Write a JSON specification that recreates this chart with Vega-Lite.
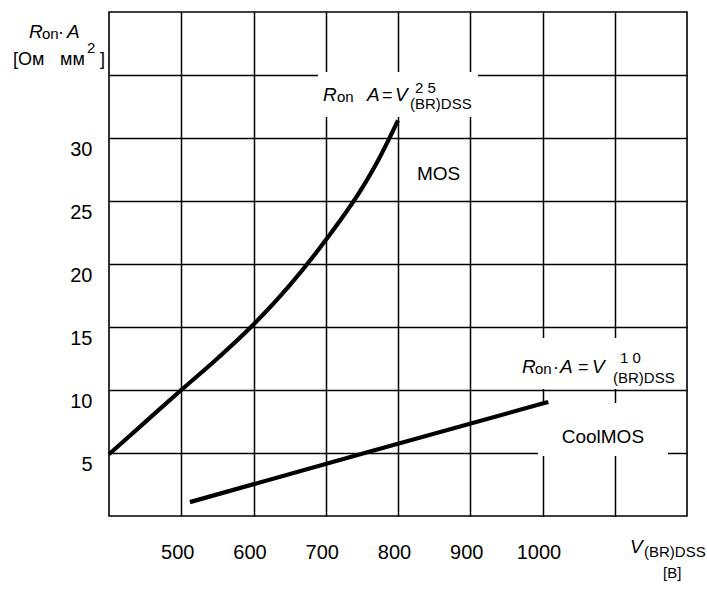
{
  "$schema": "https://vega.github.io/schema/vega-lite/v6.json",
  "width": 578,
  "height": 504,
  "autosize": {"type": "none"},
  "padding": {"left": 109, "top": 12, "right": 20, "bottom": 76},
  "background": "white",
  "config": {
    "view": {"stroke": "black", "strokeWidth": 1.6},
    "font": "Liberation Sans"
  },
  "datasets": {
    "curves": [
      {"series": "MOS", "x": 400, "y": 4.9},
      {"series": "MOS", "x": 450, "y": 7.45},
      {"series": "MOS", "x": 500, "y": 10.0},
      {"series": "MOS", "x": 550, "y": 12.5},
      {"series": "MOS", "x": 600, "y": 15.2},
      {"series": "MOS", "x": 650, "y": 18.3},
      {"series": "MOS", "x": 700, "y": 21.9},
      {"series": "MOS", "x": 750, "y": 26.0},
      {"series": "MOS", "x": 775, "y": 28.5},
      {"series": "MOS", "x": 800, "y": 31.4},
      {"series": "CoolMOS", "x": 512, "y": 1.1},
      {"series": "CoolMOS", "x": 760, "y": 5.1},
      {"series": "CoolMOS", "x": 1008, "y": 9.05}
    ],
    "boxes": [
      {"x": 689.3, "x2": 910.7, "y": 35.24, "y2": 31.67},
      {"x": 993.8, "x2": 1173.7, "y": 8.97, "y2": 4.76},
      {"x": 962, "x2": 1194.5, "y": 14.13, "y2": 10.08}
    ],
    "italic": [
      {"t": "R", "x": 289.3, "y": 37.94},
      {"t": "A", "x": 341.9, "y": 37.94},
      {"t": "R", "x": 696.2, "y": 32.94},
      {"t": "A", "x": 757.1, "y": 32.94},
      {"t": "V", "x": 795.8, "y": 32.94},
      {"t": "R", "x": 971.6, "y": 11.35},
      {"t": "A", "x": 1024.2, "y": 11.35},
      {"t": "V", "x": 1068.5, "y": 11.35},
      {"t": "V", "x": 1121.1, "y": -2.94}
    ],
    "normal": [
      {"t": "·", "x": 329.4, "y": 37.94},
      {"t": "[Ом", "x": 267.1, "y": 35.79},
      {"t": "мм", "x": 332.2, "y": 35.79},
      {"t": "]", "x": 387.5, "y": 35.79},
      {"t": "=", "x": 777.9, "y": 32.94},
      {"t": "·", "x": 1014.5, "y": 11.35},
      {"t": "=", "x": 1049.1, "y": 11.35}
    ],
    "labels": [
      {"t": "MOS", "x": 826.3, "y": 26.67},
      {"t": "CoolMOS", "x": 1026.6, "y": 5.79}
    ],
    "sub": [
      {"t": "on", "x": 307.3, "y": 37.86},
      {"t": "2", "x": 369.6, "y": 36.75},
      {"t": "on", "x": 715.6, "y": 32.86},
      {"t": "2 5", "x": 823.5, "y": 33.57},
      {"t": "(BR)DSS", "x": 816.6, "y": 32.3},
      {"t": "on", "x": 989.6, "y": 11.27},
      {"t": "1 0", "x": 1107.3, "y": 12.14},
      {"t": "(BR)DSS", "x": 1097.6, "y": 10.56},
      {"t": "(BR)DSS", "x": 1140.5, "y": -3.25},
      {"t": "[В]", "x": 1166.8, "y": -4.92}
    ]
  },
  "encoding": {
    "x": {
      "field": "x", "type": "quantitative",
      "scale": {"domain": [400, 1200], "nice": false, "zero": false},
      "axis": {
        "values": [500, 600, 700, 800, 900, 1000, 1100],
        "format": "d",
        "labelExpr": "datum.value == 1100 ? '' : datum.label",
        "grid": true, "gridColor": "black", "gridWidth": 1.5, "gridOpacity": 1,
        "domain": false, "ticks": false, "tickSize": 0,
        "labelFont": "Liberation Sans", "labelFontSize": 20, "labelColor": "black",
        "labelBaseline": "alphabetic", "labelPadding": 42, "labelOffset": -4,
        "labelFlush": false, "labelOverlap": false,
        "title": null
      }
    },
    "y": {
      "field": "y", "type": "quantitative",
      "scale": {"domain": [0, 40], "nice": false, "zero": false},
      "axis": {
        "values": [5, 10, 15, 20, 25, 30, 35],
        "labelExpr": "datum.value == 35 ? '' : datum.label",
        "grid": true, "gridColor": "black", "gridWidth": 1.5, "gridOpacity": 1,
        "domain": false, "ticks": false, "tickSize": 0,
        "labelFont": "Liberation Sans", "labelFontSize": 20, "labelColor": "black",
        "labelBaseline": "middle", "labelPadding": 17, "labelOffset": 11,
        "labelFlush": false, "labelOverlap": false,
        "title": null
      }
    }
  },
  "layer": [
    {
      "data": {"name": "boxes"},
      "mark": {"type": "rect", "fill": "white", "stroke": null},
      "encoding": {"x2": {"field": "x2"}, "y2": {"field": "y2"}}
    },
    {
      "data": {"name": "curves"},
      "mark": {"type": "line", "color": "black", "strokeWidth": 4.2, "interpolate": "monotone", "strokeCap": "butt"},
      "encoding": {"detail": {"field": "series"}}
    },
    {
      "data": {"name": "italic"},
      "mark": {"type": "text", "font": "Liberation Sans", "fontStyle": "italic", "fontSize": 19, "align": "left", "baseline": "alphabetic", "color": "black"},
      "encoding": {"text": {"field": "t"}}
    },
    {
      "data": {"name": "normal"},
      "mark": {"type": "text", "font": "Liberation Sans", "fontSize": 18, "align": "left", "baseline": "alphabetic", "color": "black"},
      "encoding": {"text": {"field": "t"}}
    },
    {
      "data": {"name": "labels"},
      "mark": {"type": "text", "font": "Liberation Sans", "fontSize": 19, "align": "left", "baseline": "alphabetic", "color": "black"},
      "encoding": {"text": {"field": "t"}}
    },
    {
      "data": {"name": "sub"},
      "mark": {"type": "text", "font": "Liberation Sans", "fontSize": 15, "align": "left", "baseline": "alphabetic", "color": "black"},
      "encoding": {"text": {"field": "t"}}
    }
  ]
}
